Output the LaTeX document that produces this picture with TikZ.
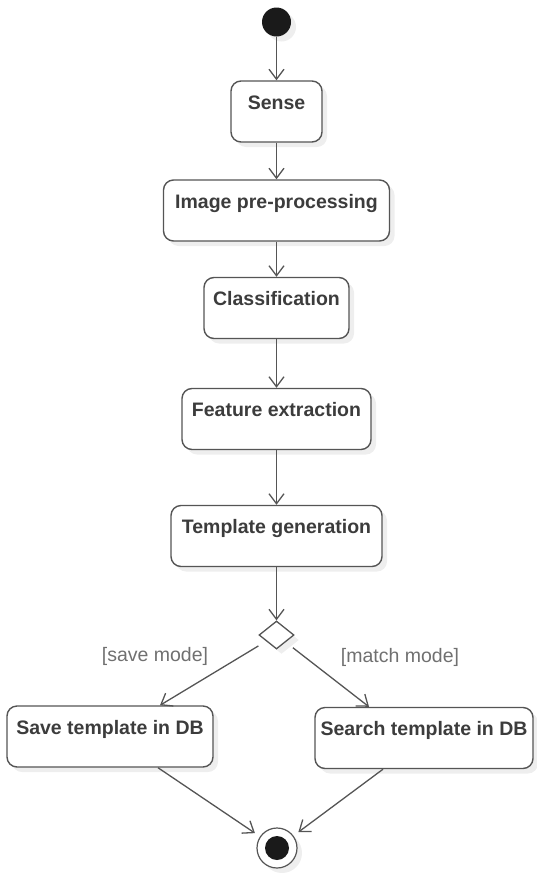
\documentclass[tikz,border=0pt]{standalone}
\usepackage{fontspec}
\setmainfont{Liberation Sans}
\usetikzlibrary{arrows.meta,shapes.geometric,shadows,calc}
\definecolor{linec}{HTML}{555555}
\definecolor{textc}{HTML}{3C3C3C}
\definecolor{guardc}{HTML}{707070}
\definecolor{shadowc}{HTML}{EEEEEE}
\definecolor{dotc}{HTML}{1A1A1A}
\begin{document}
\begin{tikzpicture}[x=1pt,y=-1pt,
  shad/.style={drop shadow={shadow xshift=5pt, shadow yshift=-5pt, fill=shadowc, opacity=1}},
  act/.style={draw=linec, line width=1.4pt, fill=white, rounded corners=10pt,
    text height=14pt, text depth=19pt, inner ysep=14pt, inner xsep=0pt,
    font=\fontsize{19.5}{22}\selectfont\bfseries, text=textc, shad},
  flow/.style={draw=linec, line width=1.3pt, -{Straight Barb[length=10pt,width=15pt]}},
  guard/.style={font=\fontsize{19.5}{22}\selectfont, text=guardc}]
\useasboundingbox (0,0) rectangle (537,873);
\node[circle, fill=dotc, minimum size=29pt, inner sep=0pt, shad] (start) at (276.5,22) {};
\node[act, minimum width=91pt] (sense) at (276.5,111.5) {Sense};
\node[act, minimum width=226pt] (pre) at (276.5,210.5) {Image pre-processing};
\node[act, minimum width=145pt] (cls) at (276.5,308) {Classification};
\node[act, minimum width=189pt] (feat) at (276.5,419) {Feature extraction};
\node[act, minimum width=211pt] (tpl) at (276.5,536) {Template generation};
\node[diamond, draw=linec, line width=1.3pt, fill=white, minimum width=35pt, minimum height=28pt, inner sep=0pt, shad] (dec) at (276.5,635) {};
\node[act, minimum width=206pt] (save) at (110,736.5) {Save template in DB};
\node[act, minimum width=218pt] (search) at (424,738) {Search template in DB};
\node[circle, draw=linec, line width=1.2pt, fill=white, minimum size=40pt, inner sep=0pt, shad] (end) at (277,848) {};
\node[circle, fill=dotc, minimum size=24pt, inner sep=0pt] (endin) at (end) {};
\node[guard] (g1) at (155,656) {[save mode]};
\node[guard] (g2) at (400,657) {[match mode]};
\draw[flow] (start) -- (sense);
\draw[flow] (sense) -- (pre);
\draw[flow] (pre) -- (cls);
\draw[flow] (cls) -- (feat);
\draw[flow] (feat) -- (tpl);
\draw[flow] (tpl) -- (dec);
\draw[flow, shorten <=9pt] (dec) -- ($(save.north)+(50,0)$);
\draw[flow, shorten <=9pt] (dec) -- ($(search.north)+(-55,0)$);
\draw[flow, shorten >=6pt] ($(save.south)+(48,0)$) -- (end);
\draw[flow, shorten >=6pt] ($(search.south)+(-41,0)$) -- (end);
\end{tikzpicture}
\end{document}
